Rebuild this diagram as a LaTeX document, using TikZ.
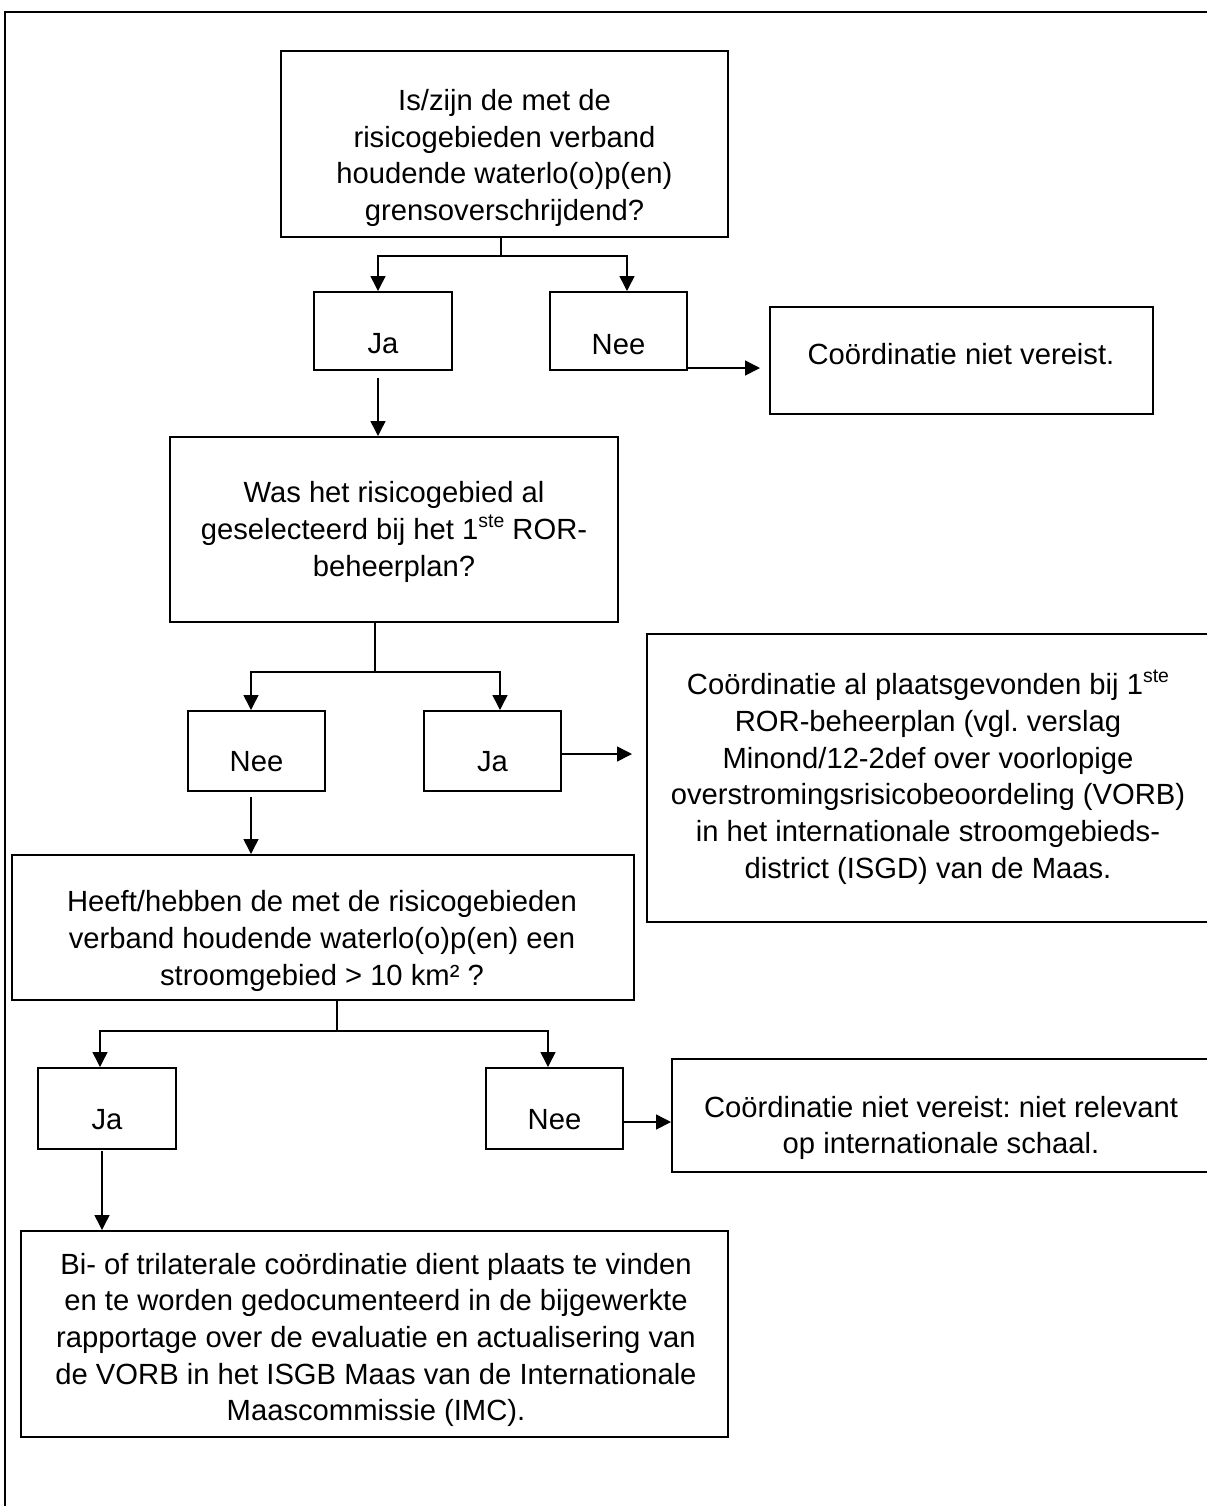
\documentclass[tikz,border=0pt]{standalone}
\usepackage{fontspec}
\setmainfont{Liberation Sans}
\usetikzlibrary{arrows.meta,calc}
\newcommand{\ste}{\raisebox{0.42em}{\fontsize{9.7pt}{9.7pt}\selectfont ste}}
\frenchspacing
\begin{document}
\frenchspacing
\begin{tikzpicture}[x=0.5pt,y=-0.5pt,
  box/.style={draw, line width=1pt, inner sep=0pt, rectangle},
  txt/.style={align=center, inner sep=0pt, font=\fontsize{14.6pt}{18.35pt}\selectfont\frenchspacing},
  ln/.style={line width=0.75pt},
  ar/.style={line width=0.75pt, -{Triangle[length=7.5pt,width=7.5pt]}},
  frame/.style={line width=1pt}]
\useasboundingbox (0,0) rectangle (1206,1506);

% outer frame (top and left edges)
\coordinate (fr0) at (5,12);
\coordinate (fr1) at (1212,12);
\coordinate (fr2) at (5,1512);
\draw[frame] (fr1) -- (fr0) -- (fr2);

% boxes
\node[box, minimum width=223.5pt, minimum height=93pt]   (b1)   at (504.5,144) {};
\node[box, minimum width=69pt,    minimum height=39pt]   (ja1)  at (383,331) {};
\node[box, minimum width=68.5pt,  minimum height=39pt]   (nee1) at (618.5,331) {};
\node[box, minimum width=191.5pt, minimum height=53.5pt] (c1)   at (961.5,360.5) {};
\node[box, minimum width=224pt,   minimum height=92.5pt] (b2)   at (394,529.5) {};
\node[box, minimum width=68.5pt,  minimum height=40pt]   (nee2) at (256.5,751) {};
\node[box, minimum width=68.5pt,  minimum height=40pt]   (ja2)  at (492.5,751) {};
\node[box, minimum width=281.5pt, minimum height=144pt]  (c2)   at (928.5,778) {};
\node[box, minimum width=311pt,   minimum height=72.5pt] (b3)   at (323,927.5) {};
\node[box, minimum width=69pt,    minimum height=40.5pt] (ja3)  at (107,1108.5) {};
\node[box, minimum width=68.5pt,  minimum height=40.5pt] (nee3) at (554.5,1108.5) {};
\node[box, minimum width=269pt,   minimum height=56.5pt] (c3)   at (941,1115.5) {};
\node[box, minimum width=353.5pt, minimum height=103pt]  (b4)   at (374.5,1334) {};

% texts
\node[txt] (t1) at (504.5,158) {Is/zijn de met de\\risicogebieden verband\\houdende waterlo(o)p(en)\\grensoverschrijdend?};
\node[txt] (tja1) at (383,344) {Ja};
\node[txt] (tnee1) at (618.5,345) {Nee};
\node[txt] (tc1) at (961,354) {Coördinatie niet vereist.};
\node[txt] (t2) at (394,532) {Was het risicogebied al\\geselecteerd bij het 1\ste{} ROR-\\beheerplan?};
\node[txt] (tnee2) at (256.5,762) {Nee};
\node[txt] (tja2) at (492.5,762) {Ja};
\node[txt] (tc2) at (928,777) {Coördinatie al plaatsgevonden bij 1\ste\\ROR-beheerplan (vgl. verslag\\Minond/12-2def over voorlopige\\overstromingsrisicobeoordeling (VORB)\\in het internationale stroomgebieds-\\district (ISGD) van de Maas.};
\node[txt] (t3) at (322,941) {Heeft/hebben de met de risicogebieden\\verband houdende waterlo(o)p(en) een\\stroomgebied > 10 km² ?};
\node[txt] (tja3) at (107,1120) {Ja};
\node[txt] (tnee3) at (554.5,1120) {Nee};
\node[txt] (tc3) at (941,1128) {Coördinatie niet vereist: niet relevant\\op internationale schaal.};
\node[txt] (t4) at (376,1340) {Bi- of trilaterale coördinatie dient plaats te vinden\\en te worden gedocumenteerd in de bijgewerkte\\rapportage over de evaluatie en actualisering van\\de VORB in het ISGB Maas van de Internationale\\Maascommissie (IMC).};

% connectors: box 1
\coordinate (f1) at (501,256);
\draw[ln] (f1 |- b1.south) -- (f1);
\coordinate (p1) at ($(ja1.north)+(-5,0)$);
\coordinate (p2) at ($(nee1.north)+(8.5,0)$);
\draw[ar] (f1) -| (p1);
\draw[ar] (f1) -| (p2);
\coordinate (p3) at ($(ja1.south)+(-5,7)$);
\draw[ar] (p3) -- (p3 |- b2.north);
\coordinate (p4) at ($(nee1.south east)+(0,-3)$);
\draw[ar, shorten >=4.5pt] (p4) -- (p4 -| c1.west);

% connectors: box 2
\coordinate (f2) at (375,672);
\draw[ln] (f2 |- b2.south) -- (f2);
\coordinate (p5) at ($(nee2.north)+(-5.5,0)$);
\coordinate (p6) at ($(ja2.north)+(7.5,0)$);
\draw[ar] (f2) -| (p5);
\draw[ar] (f2) -| (p6);
\coordinate (p7) at ($(ja2.east)+(0,3)$);
\draw[ar, shorten >=7pt] (p7) -- (p7 -| c2.west);
\coordinate (p8) at ($(nee2.south)+(-5.5,5)$);
\draw[ar] (p8) -- (p8 |- b3.north);

% connectors: box 3
\coordinate (f3) at (337,1031);
\draw[ln] (f3 |- b3.south) -- (f3);
\coordinate (p9) at ($(ja3.north)+(-7,0)$);
\coordinate (p10) at ($(nee3.north)+(-6.5,0)$);
\draw[ar] (f3) -| (p9);
\draw[ar] (f3) -| (p10);
\coordinate (p11) at ($(nee3.east)+(0,13.5)$);
\draw[ar] (p11) -- (p11 -| c3.west);
\coordinate (p12) at ($(ja3.south)+(-5,1)$);
\draw[ar] (p12) -- (p12 |- b4.north);
\end{tikzpicture}
\end{document}
